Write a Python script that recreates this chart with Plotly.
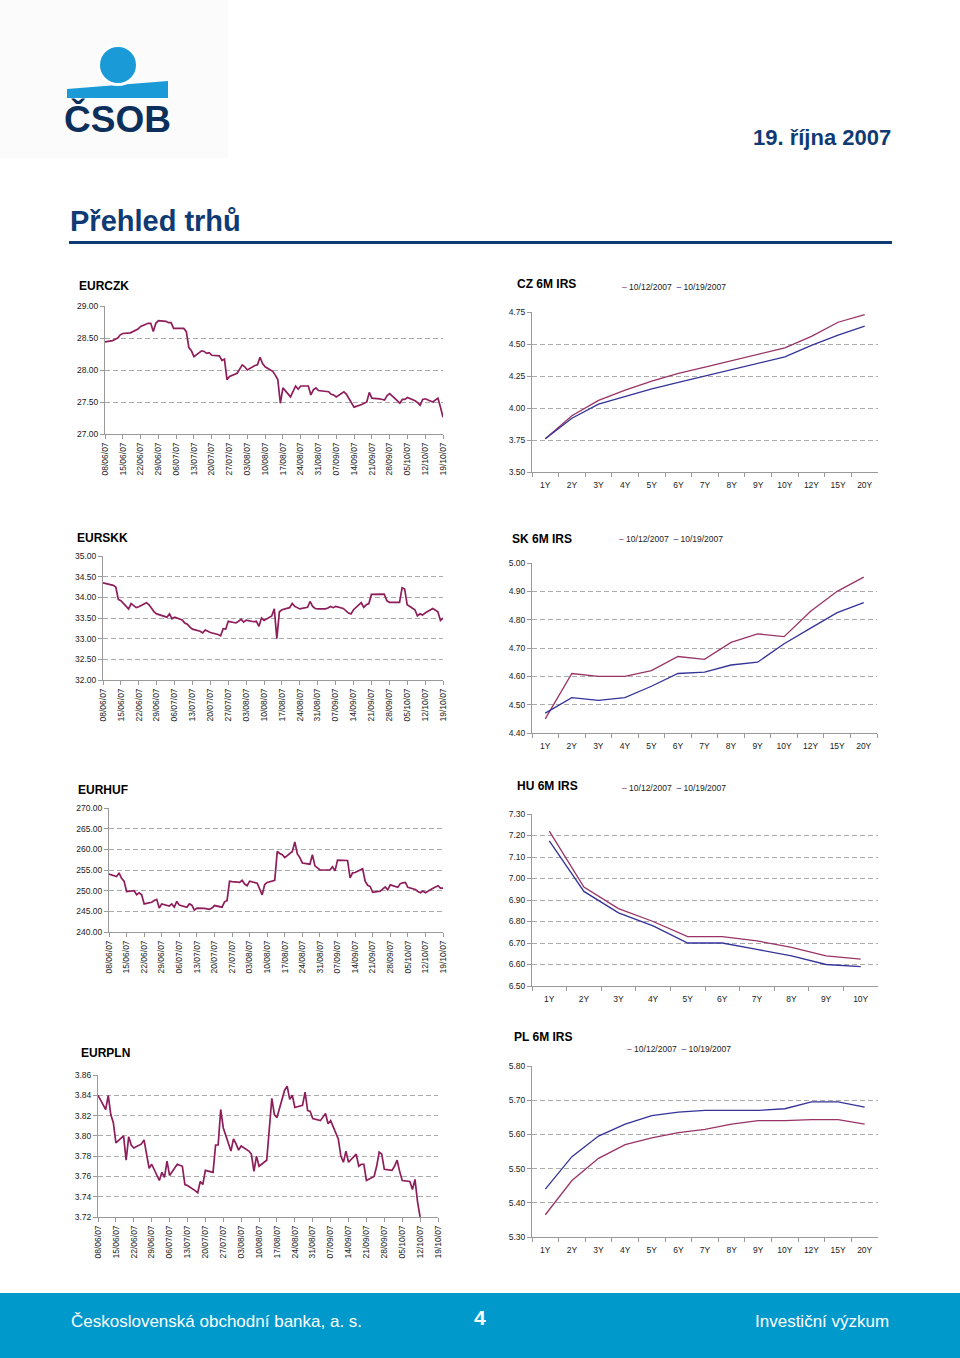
import plotly.graph_objects as go
import pandas as pd

# ---------------- DATA ----------------
dates = pd.bdate_range("2007-06-08", "2007-10-19")          # business days
tick_dates = pd.date_range("2007-06-08", "2007-10-19", freq="7D")
tick_text = [d.strftime("%d/%m/%y") for d in tick_dates]

eurczk = [28.44,
          28.46, 28.48, 28.50, 28.55, 28.57,
          28.58, 28.60, 28.61, 28.64, 28.68,
          28.73, 28.73, 28.60, 28.73, 28.77,
          28.76, 28.74, 28.74, 28.65, 28.65,
          28.65, 28.60, 28.35, 28.30, 28.21,
          28.30, 28.29, 28.26, 28.27, 28.23,
          28.22, 28.15, 28.17, 27.85, 27.90,
          27.95, 28.02, 28.08, 28.05, 28.00,
          28.07, 28.08, 28.20, 28.10, 28.05,
          27.98, 27.92, 27.85, 27.48, 27.72,
          27.58, 27.66, 27.75, 27.70, 27.75,
          27.75, 27.61, 27.69, 27.72, 27.68,
          27.67, 27.66, 27.62, 27.61, 27.58,
          27.66, 27.62, 27.55, 27.47, 27.42,
          27.46, 27.48, 27.50, 27.65, 27.56,
          27.55, 27.54, 27.53, 27.60, 27.63,
          27.52, 27.48, 27.54, 27.54, 27.57,
          27.52, 27.49, 27.45, 27.54, 27.55,
          27.50, 27.53, 27.56, 27.42, 27.26]

eurskk = [34.35,
          34.30, 34.29, 34.25, 33.95, 33.92,
          33.72, 33.85, 33.80, 33.75, 33.77,
          33.87, 33.82, 33.72, 33.65, 33.60,
          33.55, 33.52, 33.60, 33.48, 33.52,
          33.45, 33.38, 33.35, 33.28, 33.23,
          33.18, 33.14, 33.21, 33.18, 33.15,
          33.10, 33.07, 33.24, 33.23, 33.42,
          33.38, 33.42, 33.47, 33.40, 33.45,
          33.41, 33.42, 33.30, 33.50, 33.44,
          33.55, 33.72, 33.00, 33.65, 33.70,
          33.75, 33.85, 33.78, 33.74, 33.72,
          33.76, 33.90, 33.78, 33.73, 33.72,
          33.72, 33.74, 33.78, 33.75, 33.78,
          33.73, 33.68, 33.62, 33.60, 33.70,
          33.87, 33.76, 33.82, 33.85, 34.07,
          34.08, 34.09, 34.08, 33.92, 33.88,
          33.88, 33.88, 34.23, 34.20, 33.82,
          33.70, 33.55, 33.60, 33.57, 33.62,
          33.73, 33.70, 33.65, 33.44, 33.50]

eurhuf = [254.0,
          253.4, 254.3, 253.0, 252.3, 249.8,
          250.0, 249.0, 249.5, 249.0, 246.8,
          247.2, 247.6, 247.9, 245.8, 246.8,
          246.3, 246.8, 246.0, 247.4, 246.5,
          246.0, 246.8, 246.5, 245.3, 245.8,
          245.7, 245.6, 245.5, 245.8, 246.4,
          246.0, 247.3, 247.6, 252.3, 252.2,
          252.0, 252.5, 251.6, 251.2, 252.3,
          251.8, 250.5, 249.0, 251.5, 252.0,
          252.5, 259.5, 259.0, 258.7, 258.0,
          259.5, 261.8, 258.9, 258.0, 256.7,
          256.4, 258.7, 256.0, 255.5, 255.0,
          255.0, 255.0, 255.8, 254.8, 257.4,
          257.4, 257.3, 253.1, 254.3, 254.4,
          255.3, 252.3, 251.3, 251.0, 249.6,
          249.9, 250.3, 250.9, 250.2, 251.4,
          250.8, 251.7, 251.9, 252.0, 250.8,
          250.3, 249.8, 249.5, 249.9, 249.5,
          250.6, 250.9, 251.2, 250.6, 250.6]

eurpln = [3.840,
          3.826, 3.840, 3.821, 3.813, 3.793,
          3.800, 3.776, 3.799, 3.791, 3.788,
          3.792, 3.796, 3.780, 3.768, 3.772,
          3.756, 3.764, 3.759, 3.775, 3.761,
          3.772, 3.771, 3.770, 3.752, 3.751,
          3.746, 3.744, 3.755, 3.752, 3.766,
          3.764, 3.791, 3.791, 3.826, 3.808,
          3.785, 3.797, 3.792, 3.786, 3.790,
          3.785, 3.782, 3.765, 3.780, 3.770,
          3.776, 3.805, 3.837, 3.821, 3.818,
          3.845, 3.849, 3.836, 3.840, 3.828,
          3.830, 3.843, 3.825, 3.824, 3.817,
          3.815, 3.818, 3.822, 3.812, 3.815,
          3.797, 3.780, 3.774, 3.785, 3.774,
          3.782, 3.770, 3.772, 3.772, 3.756,
          3.760, 3.770, 3.784, 3.782, 3.767,
          3.766, 3.770, 3.776, 3.765, 3.756,
          3.755, 3.747, 3.757, 3.735, 3.720,
          None, None, None, None, None]

tenors13 = ["1Y", "2Y", "3Y", "4Y", "5Y", "6Y", "7Y", "8Y", "9Y", "10Y", "12Y", "15Y", "20Y"]
tenors10 = ["1Y", "2Y", "3Y", "4Y", "5Y", "6Y", "7Y", "8Y", "9Y", "10Y"]
legend_dates = ["10/12/2007", "10/19/2007"]

cz_1012 = [3.76, 3.94, 4.06, 4.14, 4.21, 4.27, 4.32, 4.37, 4.42, 4.47, 4.56, 4.67, 4.73]
cz_1019 = [3.76, 3.92, 4.03, 4.09, 4.15, 4.20, 4.25, 4.30, 4.35, 4.40, 4.49, 4.57, 4.64]

sk_1012 = [4.45, 4.61, 4.60, 4.60, 4.62, 4.67, 4.66, 4.72, 4.75, 4.74, 4.83, 4.90, 4.95]
sk_1019 = [4.47, 4.525, 4.515, 4.525, 4.565, 4.61, 4.615, 4.64, 4.65, 4.715, 4.77, 4.825, 4.86]

hu_1012 = [7.22, 6.96, 6.86, 6.80, 6.73, 6.73, 6.71, 6.68, 6.64, 6.625]
hu_1019 = [7.175, 6.94, 6.84, 6.78, 6.70, 6.70, 6.67, 6.64, 6.60, 6.59]

pl_1012 = [5.365, 5.465, 5.53, 5.57, 5.59, 5.605, 5.615, 5.63, 5.64, 5.64, 5.643, 5.643, 5.63]
pl_1019 = [5.44, 5.535, 5.595, 5.63, 5.655, 5.665, 5.67, 5.67, 5.67, 5.675, 5.695, 5.695, 5.68]

# ---------------- STYLE ----------------
W, H = 960, 1358
FONT = "Liberation Sans, Arial, Helvetica, sans-serif"
TS_COLOR = "#8e1d5b"
C1012 = "#993366"
C1019 = "#333399"
NAVY = "#0f3a73"
AXIS = "#9a9a9a"
GRID = "#ababab"
TXT = "#222222"


def px(x):
    return x / W


def py(y):
    return 1 - y / H


fig = go.Figure()

ts_panels = [
    (1, eurczk, "EURCZK", (105, 443, 306, 434), (27, 29), 0.5, (77, 286)),
    (3, eurskk, "EURSKK", (103, 443, 556, 680), (32, 35), 0.5, (75, 538)),
    (5, eurhuf, "EURHUF", (109, 443, 808, 932), (240, 270), 5, (76, 790)),
    (7, eurpln, "EURPLN", (98, 438, 1075, 1217), (3.72, 3.86), 0.02, (79, 1053)),
]
irs_panels = [
    (2, tenors13, cz_1012, cz_1019, "CZ 6M IRS", (532, 878, 312, 472), (3.5, 4.75), 0.25, (515, 284), (620, 287)),
    (4, tenors13, sk_1012, sk_1019, "SK 6M IRS", (532, 877, 563, 733), (4.4, 5.0), 0.1, (510, 539), (617, 539)),
    (6, tenors10, hu_1012, hu_1019, "HU 6M IRS", (532, 878, 814, 986), (6.5, 7.3), 0.1, (515, 786), (620, 788)),
    (8, tenors13, pl_1012, pl_1019, "PL 6M IRS", (532, 878, 1066, 1237), (5.3, 5.8), 0.1, (512, 1037), (625, 1049)),
]

annotations = []
shapes = []
layout_axes = {}


def yaxis_common(rng, dtick, dom, anchor):
    return dict(
        domain=dom, range=list(rng), dtick=dtick, tick0=rng[0], tickformat=".2f",
        showgrid=True, gridcolor=GRID, griddash="5px,3px", gridwidth=1,
        showline=True, linecolor=AXIS, linewidth=1, ticks="outside", ticklen=4,
        tickcolor=AXIS, zeroline=False, anchor=anchor, fixedrange=True,
        automargin=False,
        tickfont=dict(size=8.5, color=TXT, family=FONT),
    )


for idx, series, title, (x0, x1, yt, yb), rng, dtick, (tx, ty) in ts_panels:
    xa = "x" if idx == 1 else f"x{idx}"
    ya = "y" if idx == 1 else f"y{idx}"
    fig.add_trace(go.Scatter(x=dates, y=series, mode="lines",
                             line=dict(color=TS_COLOR, width=1.7),
                             xaxis=xa, yaxis=ya, showlegend=False,
                             connectgaps=False))
    kx = "xaxis" if idx == 1 else f"xaxis{idx}"
    ky = "yaxis" if idx == 1 else f"yaxis{idx}"
    layout_axes[kx] = dict(
        domain=[px(x0), px(x1)], type="date",
        range=[dates[0], dates[-1]],
        tickmode="array", tickvals=list(tick_dates), ticktext=tick_text,
        tickangle=-90, ticks="outside", ticklen=4, tickcolor=AXIS,
        showline=True, linecolor=AXIS, linewidth=1, showgrid=False,
        zeroline=False, anchor=ya, fixedrange=True, automargin=False,
        tickfont=dict(size=8.5, color=TXT, family=FONT),
    )
    layout_axes[ky] = yaxis_common(rng, dtick, [py(yb), py(yt)], xa)
    annotations.append(dict(text=f"<b>{title}</b>", x=px(tx), y=py(ty),
                            xref="paper", yref="paper", xanchor="left", yanchor="middle",
                            showarrow=False, font=dict(size=12, color="#000", family=FONT)))

for idx, cats, s1, s2, title, (x0, x1, yt, yb), rng, dtick, (tx, ty), (lx, ly) in irs_panels:
    xa = f"x{idx}"
    ya = f"y{idx}"
    fig.add_trace(go.Scatter(x=cats, y=s1, mode="lines", name=legend_dates[0],
                             line=dict(color=C1012, width=1.3),
                             xaxis=xa, yaxis=ya, showlegend=False))
    fig.add_trace(go.Scatter(x=cats, y=s2, mode="lines", name=legend_dates[1],
                             line=dict(color=C1019, width=1.3),
                             xaxis=xa, yaxis=ya, showlegend=False))
    layout_axes[f"xaxis{idx}"] = dict(
        domain=[px(x0), px(x1)], type="category", range=[-0.5, len(cats) - 0.5],
        tickson="boundaries", ticks="outside", ticklen=4, tickcolor=AXIS,
        ticklabelstandoff=5,
        showline=True, linecolor=AXIS, linewidth=1, showgrid=False,
        zeroline=False, anchor=ya, fixedrange=True, automargin=False,
        tickfont=dict(size=8.5, color=TXT, family=FONT),
    )
    layout_axes[f"yaxis{idx}"] = yaxis_common(rng, dtick, [py(yb), py(yt)], xa)
    annotations.append(dict(text=f"<b>{title}</b>", x=px(tx), y=py(ty),
                            xref="paper", yref="paper", xanchor="left", yanchor="middle",
                            showarrow=False, font=dict(size=12, color="#000", family=FONT)))
    leg = (f"<span style='color:{C1012}'>–</span> {legend_dates[0]}  "
           f"<span style='color:{C1019}'>–</span> {legend_dates[1]}")
    annotations.append(dict(text=leg, x=px(lx), y=py(ly), xref="paper", yref="paper",
                            xanchor="left", yanchor="middle", showarrow=False,
                            font=dict(size=8.5, color=TXT, family=FONT)))

# ---------------- HEADER / FOOTER ----------------
shapes.append(dict(type="rect", xref="paper", yref="paper", x0=0, x1=px(228),
                   y0=py(158), y1=1, fillcolor="#fbfbfb", line=dict(width=0), layer="below"))
band = f"M {px(67)},{py(89)} L {px(168)},{py(81)} L {px(168)},{py(98)} L {px(67)},{py(98)} Z"
shapes.append(dict(type="path", xref="paper", yref="paper", path=band,
                   fillcolor="#1a9ad6", line=dict(width=0)))
shapes.append(dict(type="circle", xref="paper", yref="paper",
                   x0=px(97), x1=px(139), y0=py(86), y1=py(44),
                   fillcolor="#ffffff", line=dict(width=0)))
shapes.append(dict(type="circle", xref="paper", yref="paper",
                   x0=px(100), x1=px(136), y0=py(83), y1=py(47),
                   fillcolor="#1a9ad6", line=dict(width=0)))
annotations.append(dict(text="<b>ČSOB</b>", x=px(117), y=py(119), xref="paper", yref="paper",
                        xanchor="center", yanchor="middle", showarrow=False,
                        font=dict(size=37, color="#0c2f5c", family=FONT)))
annotations.append(dict(text="<b>19. října 2007</b>", x=px(893), y=py(138), xref="paper",
                        yref="paper", xanchor="right", yanchor="middle", showarrow=False,
                        font=dict(size=22, color=NAVY, family=FONT)))
annotations.append(dict(text="<b>Přehled trhů</b>", x=px(68), y=py(221), xref="paper",
                        yref="paper", xanchor="left", yanchor="middle", showarrow=False,
                        font=dict(size=29, color=NAVY, family=FONT)))
shapes.append(dict(type="line", xref="paper", yref="paper", x0=px(69), x1=px(892),
                   y0=py(242.5), y1=py(242.5), line=dict(color=NAVY, width=3)))
shapes.append(dict(type="rect", xref="paper", yref="paper", x0=0, x1=1,
                   y0=0, y1=py(1293), fillcolor="#0099cc", line=dict(width=0), layer="below"))
annotations.append(dict(text="Československá obchodní banka, a. s.", x=px(69), y=py(1321),
                        xref="paper", yref="paper", xanchor="left", yanchor="middle",
                        showarrow=False, font=dict(size=17, color="#ffffff", family=FONT)))
annotations.append(dict(text="<b>4</b>", x=px(480), y=py(1317), xref="paper", yref="paper",
                        xanchor="center", yanchor="middle", showarrow=False,
                        font=dict(size=21, color="#ffffff", family=FONT)))
annotations.append(dict(text="Investiční výzkum", x=px(891), y=py(1321), xref="paper",
                        yref="paper", xanchor="right", yanchor="middle", showarrow=False,
                        font=dict(size=17, color="#ffffff", family=FONT)))

fig.update_layout(
    width=W, height=H, autosize=False,
    margin=dict(l=0, r=0, t=0, b=0, pad=0, autoexpand=False),
    paper_bgcolor="#ffffff", plot_bgcolor="#ffffff",
    font=dict(family=FONT, color=TXT),
    showlegend=False,
    annotations=annotations, shapes=shapes,
    **layout_axes,
)

fig.write_html("out.html", config={"displayModeBar": False},
               post_script="document.body.style.margin='0';")
